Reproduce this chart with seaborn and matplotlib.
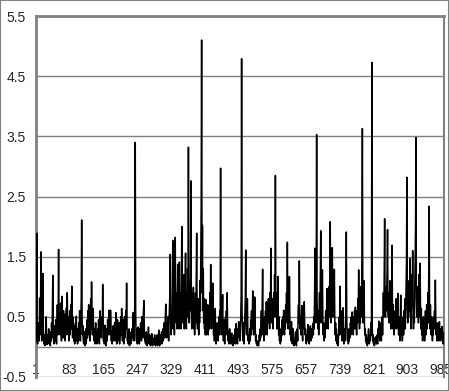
import numpy as np
import pandas as pd
import seaborn as sns
from matplotlib import pyplot as plt
from matplotlib.patches import Rectangle

# values, one row = 32 consecutive points (1..992)
values = [
    0.3, 0.1, 0.6, 1.89, 0.2, 0.05, 0.4, 0.15, 0.3, 0.1, 0.81, 0.2, 0.35, 1.58, 0.4, 0.1, 0.25, 0.6, 1.22, 0.3, 0.05, 0.15, 0.2, 0.02, 0.1, 0.3, 0.5, 0.1, 0.04, 0.2, 0.08, 0.15,
    0.3, 0.05, 0.1, 0.2, 0.02, 0.25, 0.1, 0.4, 0.15, 0.6, 1.19, 0.3, 0.1, 0.05, 0.2, 0.35, 0.1, 0.45, 0.2, 0.05, 0.3, 0.7, 0.2, 0.5, 1.62, 0.4, 0.3, 0.55, 0.2, 0.73, 0.35, 0.1,
    0.84, 0.3, 0.5, 0.15, 0.6, 0.35, 0.2, 0.45, 0.1, 0.55, 0.3, 0.65, 0.2, 0.9, 0.4, 0.25, 0.5, 0.1, 0.35, 0.6, 0.2, 0.45, 0.7, 0.3, 1.01, 0.4, 0.15, 0.5, 0.25, 0.1, 0.35, 0.05,
    0.2, 0.4, 0.1, 0.51, 0.15, 0.3, 0.05, 0.25, 0.1, 0.4, 0.2, 0.6, 0.3, 0.1, 0.45, 0.8, 2.11, 0.5, 0.2, 0.35, 0.1, 0.05, 0.2, 0.25, 0.02, 0.1, 0.3, 0.05, 0.2, 0.45, 0.15, 0.6,
    0.3, 0.7, 0.2, 0.4, 0.1, 0.55, 0.8, 0.3, 1.08, 0.45, 0.2, 0.35, 0.64, 0.25, 0.1, 0.3, 0.05, 0.2, 0.4, 0.1, 0.25, 0.05, 0.15, 0.3, 0.1, 0.45, 0.2, 0.05, 0.35, 0.6, 0.2, 0.4,
    0.15, 0.5, 0.3, 1.04, 0.4, 0.1, 0.25, 0.05, 0.2, 0.36, 0.1, 0.02, 0.15, 0.3, 0.1, 0.45, 0.2, 0.35, 0.61, 0.3, 0.5, 0.2, 0.61, 0.4, 0.1, 0.25, 0.05, 0.2, 0.35, 0.1, 0.3, 0.15,
    0.4, 0.1, 0.3, 0.57, 0.2, 0.05, 0.25, 0.45, 0.1, 0.3, 0.15, 0.4, 0.05, 0.2, 0.35, 0.5, 0.2, 0.64, 0.3, 0.1, 0.45, 0.2, 0.05, 0.3, 0.5, 0.15, 0.4, 0.6, 0.3, 1.06, 0.35, 0.1,
    0.2, 0.05, 0.15, 0.3, 0.02, 0.1, 0.2, 0.05, 0.25, 0.1, 0.3, 0.15, 0.4, 0.57, 0.2, 0.1, 0.5, 0.7, 3.40, 0.6, 0.2, 0.1, 0.3, 0.05, 0.15, 0.33, 0.1, 0.2, 0.05, 0.3, 0.15, 0.4,
    0.2, 0.1, 0.5, 0.3, 0.15, 0.45, 0.6, 0.77, 0.3, 0.1, 0.2, 0.05, 0.15, 0.25, 0.1, 0.02, 0.2, 0.1, 0.33, 0.15, 0.05, 0.2, 0.1, 0.02, 0.15, 0.05, 0.22, 0.1, 0.02, 0.15, 0.05, 0.1,
    0.05, 0.2, 0.1, 0.02, 0.15, 0.05, 0.1, 0.2, 0.02, 0.1, 0.05, 0.28, 0.1, 0.02, 0.15, 0.05, 0.2, 0.1, 0.25, 0.05, 0.15, 0.3, 0.1, 0.2, 0.4, 0.15, 0.3, 0.5, 0.71, 0.35, 0.15, 0.4,
    0.2, 0.5, 0.3, 0.1, 0.45, 0.7, 0.9, 1.54, 0.4, 0.2, 0.6, 0.3, 0.8, 1.77, 0.5, 0.3, 0.7, 0.2, 1.0, 1.82, 0.6, 0.4, 0.9, 0.3, 0.7, 1.37, 0.5, 0.8, 0.3, 1.41, 0.6, 0.4,
    0.9, 0.3, 1.1, 2.00, 0.7, 0.4, 0.9, 0.5, 1.2, 0.3, 0.8, 1.0, 1.56, 0.6, 0.3, 0.9, 0.5, 1.3, 0.7, 3.32, 0.8, 0.4, 1.0, 0.6, 1.2, 2.76, 0.7, 0.3, 0.6, 0.9, 0.4, 0.99,
    0.3, 0.7, 0.2, 0.5, 0.9, 0.4, 1.2, 1.89, 0.6, 0.3, 0.8, 0.5, 0.2, 0.8, 0.4, 1.1, 0.6, 1.6, 2.4, 5.10, 0.9, 2.02, 0.6, 1.3, 0.4, 0.8, 0.3, 0.6, 0.2, 0.79, 0.4, 0.2,
    0.5, 0.3, 0.7, 0.2, 0.4, 0.6, 0.3, 0.9, 0.5, 1.37, 0.6, 0.3, 0.8, 0.4, 1.06, 0.5, 0.2, 0.4, 0.1, 0.3, 0.64, 0.2, 0.05, 0.3, 0.15, 0.4, 0.2, 0.1, 0.3, 0.5, 0.2, 0.6,
    0.3, 2.97, 0.5, 0.2, 0.4, 0.6, 0.87, 0.3, 0.1, 0.45, 0.2, 0.05, 0.3, 0.5, 0.2, 0.6, 0.4, 0.9, 0.35, 0.1, 0.25, 0.05, 0.15, 0.3, 0.1, 0.2, 0.05, 0.15, 0.23, 0.05, 0.1, 0.02,
    0.15, 0.05, 0.2, 0.1, 0.3, 0.05, 0.2, 0.39, 0.1, 0.25, 0.05, 0.3, 0.2, 0.42, 0.15, 0.35, 0.1, 0.3, 0.5, 0.9, 4.79, 0.6, 0.3, 0.1, 0.4, 0.2, 0.05, 0.3, 0.5, 0.8, 1.61, 0.4,
    0.2, 0.5, 0.8, 0.3, 0.1, 0.2, 0.05, 0.15, 0.3, 0.1, 0.45, 0.2, 0.6, 0.3, 0.5, 0.93, 0.4, 0.2, 0.6, 0.3, 0.83, 0.35, 0.1, 0.2, 0.05, 0.1, 0.02, 0.05, 0.1, 0.02, 0.08, 0.2,
    0.1, 0.3, 0.15, 0.4, 0.6, 0.2, 0.8, 1.29, 0.5, 0.3, 0.1, 0.35, 0.5, 0.2, 0.6, 0.3, 0.75, 0.4, 0.2, 0.5, 0.6, 0.8, 0.4, 0.7, 0.3, 0.9, 0.5, 1.64, 0.6, 0.4, 0.8, 0.5,
    0.3, 0.7, 0.9, 0.5, 1.2, 0.7, 2.85, 0.8, 0.5, 0.9, 0.3, 0.6, 1.17, 0.4, 0.2, 0.5, 0.1, 0.3, 0.05, 0.2, 0.1, 0.3, 0.45, 0.2, 0.5, 0.3, 0.61, 0.4, 0.2, 0.55, 0.3, 0.7,
    0.4, 0.9, 0.5, 1.74, 0.6, 0.3, 0.7, 0.4, 1.17, 0.5, 0.2, 0.35, 0.1, 0.42, 0.2, 0.05, 0.15, 0.3, 0.1, 0.02, 0.1, 0.05, 0.15, 0.25, 0.1, 0.02, 0.2, 0.3, 0.1, 0.5, 0.7, 0.4,
    1.43, 0.6, 0.3, 0.5, 0.2, 0.4, 0.69, 0.3, 0.1, 0.4, 0.6, 0.3, 0.75, 0.4, 0.2, 0.3, 0.1, 0.05, 0.2, 0.1, 0.25, 0.37, 0.1, 0.2, 0.05, 0.15, 0.3, 0.35, 0.1, 0.2, 0.3, 0.15,
    0.25, 0.39, 0.2, 0.5, 0.3, 0.8, 1.64, 0.6, 0.4, 1.0, 3.53, 0.8, 0.5, 0.3, 0.6, 0.2, 0.5, 0.9, 0.4, 1.1, 1.93, 0.7, 0.4, 0.8, 1.28, 0.5, 0.2, 0.4, 0.1, 0.3, 0.15, 0.4,
    0.6, 0.3, 0.5, 0.97, 0.4, 0.8, 0.3, 0.6, 1.0, 0.5, 1.2, 2.08, 0.7, 0.4, 0.9, 0.6, 1.65, 0.8, 0.5, 1.0, 0.7, 1.29, 0.5, 0.2, 0.4, 0.1, 0.3, 0.05, 0.2, 0.1, 0.02, 0.15,
    0.3, 0.5, 0.2, 1.01, 0.4, 0.6, 0.2, 0.4, 0.1, 0.3, 0.65, 0.2, 0.05, 0.15, 0.3, 0.1, 0.4, 0.6, 1.91, 0.5, 0.2, 0.1, 0.3, 0.05, 0.2, 0.1, 0.3, 0.15, 0.4, 0.2, 0.5, 0.3,
    0.58, 0.3, 0.45, 0.2, 0.5, 0.3, 0.6, 0.4, 0.66, 0.3, 0.5, 0.2, 0.6, 0.4, 0.8, 0.5, 1.28, 0.6, 0.3, 0.7, 0.4, 1.0, 0.5, 0.8, 1.5, 3.63, 0.7, 0.4, 0.6, 1.10, 0.4, 0.2,
    0.3, 0.1, 0.2, 0.05, 0.15, 0.02, 0.1, 0.2, 0.30, 0.1, 0.05, 0.2, 0.1, 0.25, 0.4, 0.2, 4.73, 0.3, 0.1, 0.2, 0.05, 0.1, 0.02, 0.15, 0.05, 0.1, 0.17, 0.05, 0.1, 0.2, 0.05, 0.3,
    0.2, 0.43, 0.15, 0.3, 0.1, 0.2, 0.4, 0.1, 0.3, 0.5, 0.2, 0.6, 0.9, 0.5, 1.2, 2.13, 0.8, 0.5, 1.0, 0.6, 0.9, 1.3, 1.95, 0.8, 0.5, 0.9, 0.4, 0.7, 1.1, 0.5, 0.3, 0.6,
    0.9, 1.69, 0.6, 0.3, 0.7, 0.4, 0.2, 0.5, 0.3, 0.6, 0.4, 0.80, 0.3, 0.5, 0.6, 0.89, 0.4, 0.2, 0.5, 0.3, 0.1, 0.4, 0.86, 0.3, 0.2, 0.4, 0.1, 0.3, 0.5, 0.2, 0.6, 0.4,
    0.8, 0.3, 0.6, 1.0, 1.4, 2.82, 0.7, 0.4, 0.9, 0.5, 1.1, 0.6, 0.9, 1.47, 0.6, 0.3, 0.8, 1.2, 0.7, 1.60, 0.5, 0.3, 0.7, 0.4, 0.9, 1.3, 2.0, 3.48, 0.8, 0.5, 1.0, 0.6,
    0.9, 0.4, 1.2, 0.7, 0.5, 1.39, 0.6, 0.3, 0.64, 0.2, 0.4, 0.1, 0.3, 0.5, 0.2, 0.4, 0.1, 0.3, 0.6, 0.2, 0.4, 0.7, 0.3, 0.5, 0.9, 0.4, 1.2, 2.34, 0.6, 0.3, 0.7, 0.4,
    0.2, 0.50, 0.3, 0.1, 0.4, 0.2, 0.5, 0.3, 0.6, 0.4, 1.11, 0.5, 0.2, 0.4, 0.1, 0.3, 0.2, 0.4, 0.1, 0.3, 0.42, 0.2, 0.1, 0.3, 0.15, 0.2, 0.34, 0.1, 0.25, 0.05, 0.2, 0.1,
]
x_labels = [1, 83, 165, 247, 329, 411, 493, 575, 657, 739, 821, 903, 985]
y_ticks = [-0.5, 0.5, 1.5, 2.5, 3.5, 4.5, 5.5]

df = pd.DataFrame({"point": np.arange(1, len(values) + 1), "value": values})

sns.set_style("white")
plt.rcParams["font.family"] = ["Liberation Sans", "DejaVu Sans"]

fig = plt.figure(figsize=(4.49, 3.91), dpi=100)
ax = fig.add_axes([35.5 / 449, 14 / 391, 408.5 / 449, 361 / 391])

sns.lineplot(data=df, x="point", y="value", ax=ax, color="black", linewidth=1.1, zorder=3)

grey = "#808080"
ax.set_xlim(1, len(values))
ax.set_ylim(-0.5, 5.5)
ax.set_yticks(y_ticks)
ax.set_yticklabels([f"{v:g}" for v in y_ticks])
ax.set_xticks(x_labels)
ax.set_xticklabels([str(v) for v in x_labels])
ax.set_xticks(df["point"][::4], minor=True)
ax.yaxis.grid(True, color=grey, linewidth=1)
ax.set_axisbelow(True)

ax.spines["bottom"].set_position(("data", 0))
ax.spines["bottom"].set_color(grey)
ax.spines["bottom"].set_linewidth(1)
ax.spines["left"].set_color(grey)
ax.spines["left"].set_linewidth(2)
ax.spines["top"].set_color(grey)
ax.spines["top"].set_linewidth(2)
ax.spines["right"].set_color(grey)
ax.spines["right"].set_linewidth(1.5)

ax.tick_params(axis="x", which="both", direction="out", length=3, width=0.7,
               color=grey, pad=8.5, labelsize=10)
ax.tick_params(axis="y", direction="out", length=4, width=1, color=grey, pad=3, labelsize=10)
ax.set_xlabel("")
ax.set_ylabel("")

fig.patches.append(Rectangle((0, 0), 1, 1, transform=fig.transFigure, fill=False,
                             edgecolor=grey, linewidth=1.5))

fig.savefig("out.png", dpi=100)
